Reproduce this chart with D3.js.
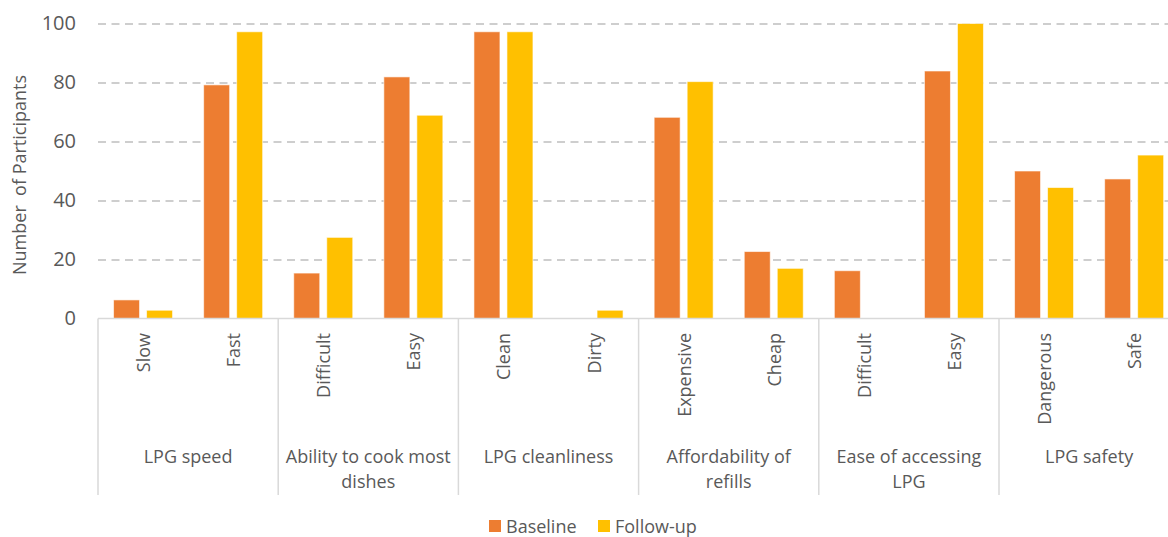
<!DOCTYPE html>
<html>
<head>
<meta charset="utf-8">
<script src="https://cdn.jsdelivr.net/npm/d3@7"></script>
<style>
  body { margin: 0; background: #fff; }
  svg text { font-family: "Open Sans", sans-serif; fill: #595959; }
</style>
</head>
<body>
<svg width="1168" height="537"></svg>
<script>
// data
const groups = ['LPG speed', 'Ability to cook most|dishes', 'LPG cleanliness',
  'Affordability of|refills', 'Ease of accessing|LPG', 'LPG safety'];
const answers = ['Slow', 'Fast', 'Difficult', 'Easy', 'Clean', 'Dirty',
  'Expensive', 'Cheap', 'Difficult', 'Easy', 'Dangerous', 'Safe'];
const baseline = [6.3, 79.2, 15.4, 81.9, 97.2, 0, 68.2, 22.7, 16.2, 83.9, 50.0, 47.3];
const followUp = [2.8, 97.2, 27.5, 68.9, 97.2, 2.8, 80.3, 17.0, 0, 100, 44.4, 55.4];
const series = ['Baseline', 'Follow-up'];
const yTicks = [0, 20, 40, 60, 80, 100];

const svg = d3.select('svg');
const plotLeft = 98, plotTop = 23.5, plotBottom = 318.5;
const step = 90.1;
const plotRight = plotLeft + answers.length * step;

const color = d3.scaleOrdinal().domain(series).range(['#ED7D31', '#FFC000']);

const y = d3.scaleLinear().domain([0, 100]).range([plotBottom, plotTop]);
const x = d3.scaleBand().domain(d3.range(answers.length)).range([plotLeft, plotRight]);
const x1 = d3.scaleBand().domain(series).range([0, x.bandwidth()])
  .paddingInner(7 / 33).paddingOuter(0.471);

// gridlines
svg.append('g')
  .attr('transform', `translate(${plotLeft},0)`)
  .call(d3.axisLeft(y).tickValues(yTicks.slice(1)).tickSize(-(plotRight - plotLeft)).tickFormat(''))
  .call(g => g.select('.domain').remove())
  .call(g => g.selectAll('line')
    .attr('stroke', '#bfbfbf').attr('stroke-width', 1.5).attr('stroke-dasharray', '8,5.5'));

// y tick labels
svg.append('g')
  .attr('transform', `translate(${plotLeft},0)`)
  .call(d3.axisLeft(y).tickValues(yTicks).tickSize(0).tickPadding(22))
  .call(g => g.select('.domain').remove())
  .call(g => g.selectAll('text').attr('font-size', 20).style('fill', '#595959')
    .style('font-family', '"Open Sans", sans-serif'));

// y title (double space kept as in the original)
svg.append('text')
  .attr('transform', `translate(18.5,${(plotTop + plotBottom) / 2 + 4}) rotate(-90)`)
  .attr('text-anchor', 'middle')
  .attr('dominant-baseline', 'central')
  .attr('font-size', 18)
  .style('white-space', 'pre')
  .text('Number  of Participants');

// bars
const rows = answers.map((a, i) => ({ i, values: [baseline[i], followUp[i]] }));
const cat = svg.append('g').selectAll('g')
  .data(rows)
  .join('g')
  .attr('transform', d => `translate(${x(d.i)},0)`);

cat.selectAll('rect')
  .data(d => series.map((s, k) => ({ s, v: d.values[k] })).filter(d => d.v > 0))
  .join('rect')
  .attr('x', d => x1(d.s))
  .attr('y', d => y(d.v))
  .attr('width', x1.bandwidth())
  .attr('height', d => y(0) - y(d.v))
  .attr('fill', d => color(d.s))
  .attr('stroke', '#fff')
  .attr('stroke-opacity', 0.6)
  .attr('stroke-width', 1);

// x axis line
svg.append('line')
  .attr('x1', plotLeft).attr('x2', plotRight)
  .attr('y1', plotBottom).attr('y2', plotBottom)
  .attr('stroke', '#d9d9d9').attr('stroke-width', 1.5);

// group separators
svg.append('g').selectAll('line')
  .data(d3.range(groups.length + 1))
  .join('line')
  .attr('x1', k => plotLeft + k * 2 * step).attr('x2', k => plotLeft + k * 2 * step)
  .attr('y1', plotBottom).attr('y2', 495)
  .attr('stroke', '#d9d9d9').attr('stroke-width', 1.5);

// answer labels (rotated)
svg.append('g').selectAll('text')
  .data(answers)
  .join('text')
  .attr('transform', (d, i) => `translate(${x(i) + x.bandwidth() / 2},333) rotate(-90)`)
  .attr('text-anchor', 'end')
  .attr('dominant-baseline', 'central')
  .attr('font-size', 18)
  .text(d => d);

// group labels
svg.append('g').selectAll('text')
  .data(groups)
  .join('text')
  .attr('x', (d, k) => plotLeft + (k * 2 + 1) * step)
  .attr('y', 456)
  .attr('text-anchor', 'middle')
  .attr('dominant-baseline', 'central')
  .attr('font-size', 18)
  .selectAll('tspan')
  .data(d => d.split('|'))
  .join('tspan')
  .attr('x', function () { return this.parentNode.getAttribute('x'); })
  .attr('dy', (d, j) => j === 0 ? 0 : 25)
  .text(d => d);

// legend
const legend = svg.append('g').selectAll('g')
  .data(series)
  .join('g')
  .attr('transform', (d, k) => `translate(${[489, 598][k]},526)`);
legend.append('rect')
  .attr('x', 0).attr('y', -6).attr('width', 12).attr('height', 12)
  .attr('fill', d => color(d));
legend.append('text')
  .attr('x', 17).attr('y', 0)
  .attr('dominant-baseline', 'central')
  .attr('font-size', 18)
  .text(d => d);
</script>
</body>
</html>
